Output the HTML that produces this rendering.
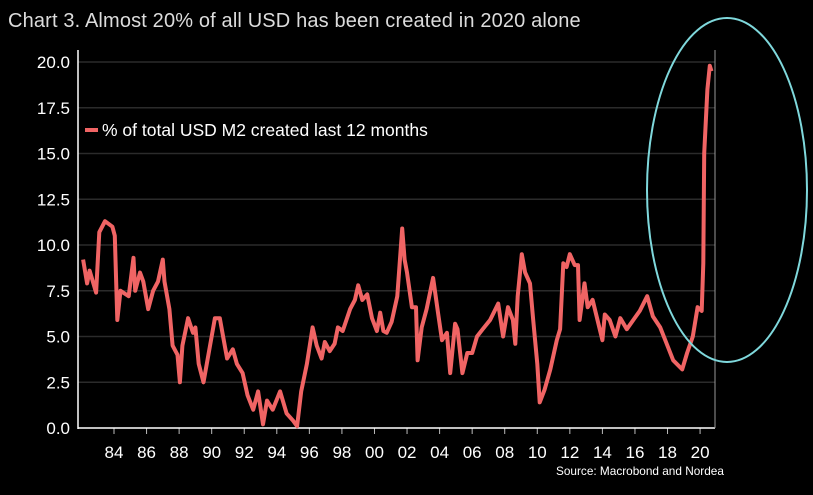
<!DOCTYPE html>
<html><head><meta charset="utf-8"><style>
html,body{margin:0;padding:0;background:#000;}
body{width:813px;height:490px;overflow:hidden;font-family:"Liberation Sans",sans-serif;}
</style></head><body>
<svg id="chart" width="813" height="490" xmlns="http://www.w3.org/2000/svg">
<rect width="813" height="490" fill="#000"/>
<text x="8" y="27" fill="#dcdcdc" font-size="20" letter-spacing="0.15" font-family="Liberation Sans, sans-serif">Chart 3. Almost 20% of all USD has been created in 2020 alone</text>
<g id="grid"></g>
<g id="axes"></g>
<g id="series"></g>
<g>
<line x1="85" y1="130" x2="98" y2="130" stroke="#f06464" stroke-width="4"/>
<text x="102" y="136" fill="#fff" font-size="17.5" font-family="Liberation Sans, sans-serif">% of total USD M2 created last 12 months</text>
</g>
<ellipse cx="727" cy="190" rx="80" ry="172" fill="none" stroke="#7fd8dc" stroke-width="2"/>
<text x="556" y="475" fill="#fff" font-size="11.8" font-family="Liberation Sans, sans-serif">Source: Macrobond and Nordea</text>
</svg>
<script>
const years=[1982.1,1982.35,1982.5,1982.9,1983.1,1983.45,1983.9,1984.05,1984.2,1984.4,1984.9,1985.2,1985.3,1985.6,1985.8,1986.1,1986.4,1986.7,1987.0,1987.1,1987.4,1987.6,1987.9,1988.05,1988.2,1988.55,1988.85,1989.0,1989.2,1989.5,1989.8,1990.2,1990.5,1990.7,1990.95,1991.3,1991.55,1991.9,1992.2,1992.55,1992.85,1993.15,1993.4,1993.75,1994.2,1994.6,1995.0,1995.25,1995.5,1995.85,1996.2,1996.45,1996.75,1996.95,1997.25,1997.55,1997.75,1998.05,1998.5,1998.8,1999.0,1999.25,1999.55,1999.85,2000.15,2000.35,2000.55,2000.75,2001.05,2001.4,2001.7,2001.85,2002.0,2002.3,2002.55,2002.65,2002.9,2003.2,2003.6,2003.9,2004.15,2004.45,2004.65,2004.95,2005.1,2005.4,2005.7,2006.0,2006.3,2006.65,2007.1,2007.6,2007.9,2008.2,2008.5,2008.65,2008.8,2009.05,2009.25,2009.55,2009.75,2010.0,2010.15,2010.45,2010.8,2011.2,2011.4,2011.6,2011.8,2012.0,2012.3,2012.5,2012.6,2012.9,2013.1,2013.4,2013.7,2014.0,2014.15,2014.45,2014.8,2015.1,2015.5,2015.9,2016.3,2016.75,2017.1,2017.55,2017.95,2018.35,2018.9,2019.2,2019.55,2019.85,2020.1,2020.2,2020.25,2020.45,2020.6,2020.7];
const values=[9.2,7.9,8.6,7.4,10.7,11.3,11.0,10.5,5.9,7.5,7.2,9.3,7.5,8.5,8.0,6.5,7.5,8.0,9.2,8.0,6.5,4.5,4.0,2.5,4.5,6.0,5.2,5.5,3.5,2.5,4.0,6.0,6.0,5.0,3.8,4.3,3.5,3.0,1.8,1.0,2.0,0.2,1.5,1.0,2.0,0.8,0.4,0.1,2.0,3.5,5.5,4.5,3.8,4.7,4.2,4.6,5.5,5.3,6.5,7.0,7.8,7.0,7.3,6.0,5.3,6.3,5.3,5.2,5.8,7.2,10.9,9.2,8.5,6.6,6.6,3.7,5.5,6.5,8.2,6.3,4.8,5.2,3.0,5.7,5.4,3.0,4.1,4.1,5.0,5.4,5.9,6.8,5.0,6.6,5.9,4.6,7.2,9.5,8.5,7.9,5.9,3.5,1.4,2.1,3.2,4.8,5.4,9.0,8.8,9.5,8.9,8.9,5.9,7.9,6.6,7.0,5.9,4.8,6.2,5.9,5.0,6.0,5.4,5.9,6.4,7.2,6.1,5.5,4.6,3.7,3.2,4.1,5.0,6.6,6.4,9.0,15.0,18.5,19.8,19.5];
const yTicks=[0,2.5,5,7.5,10,12.5,15,17.5,20];
const yTickLabels=["0.0","2.5","5.0","7.5","10.0","12.5","15.0","17.5","20.0"];
const xTicks=[1984,1986,1988,1990,1992,1994,1996,1998,2000,2002,2004,2006,2008,2010,2012,2014,2016,2018,2020];
const xTickLabels=["84","86","88","90","92","94","96","98","00","02","04","06","08","10","12","14","16","18","20"];

const NS="http://www.w3.org/2000/svg";
const L=78,R=715,B=428,T=62;
function xs(y){return 114+(y-1984)*16.28;}
function ys(v){return B-(v/20)*(B-T);}
function mk(tag,attrs,parent){const e=document.createElementNS(NS,tag);for(const k in attrs)e.setAttribute(k,attrs[k]);parent.appendChild(e);return e;}
const grid=document.getElementById('grid'),axes=document.getElementById('axes'),series=document.getElementById('series');
yTicks.forEach((v,i)=>{
  if(v>0){const g=mk('line',{x1:L,x2:R,y1:ys(v),y2:ys(v),stroke:'#2b2b2b','stroke-width':1.5},grid);
  
  }
  const t=mk('text',{x:L-8,y:ys(v)+6,fill:'#fff','font-size':17,'text-anchor':'end','font-family':'Liberation Sans, sans-serif'},axes);
  t.textContent=yTickLabels[i];
  
  
});
xTicks.forEach((y,i)=>{
  const x=xs(y);
  const tk=mk('line',{x1:x,x2:x,y1:B,y2:B+6,stroke:'#bbb','stroke-width':1},axes);
  
  
  const t=mk('text',{x:x,y:B+30,fill:'#fff','font-size':17,'text-anchor':'middle','font-family':'Liberation Sans, sans-serif'},axes);
  t.textContent=xTickLabels[i];
  
  
});
const ya=mk('line',{x1:L,x2:L,y1:50,y2:B+1,stroke:'#fff','stroke-width':1.5},axes);


const xa=mk('line',{x1:L,x2:R,y1:B,y2:B,stroke:'#fff','stroke-width':1.5},axes);


const ra=mk('line',{x1:R,x2:R,y1:50,y2:B,stroke:'#999','stroke-width':1},axes);


const d=years.map((y,i)=>(i?'L':'M')+xs(y).toFixed(1)+','+ys(values[i]).toFixed(1)).join(' ');
const p=mk('path',{d:d,fill:'none',stroke:'#f06464','stroke-width':4,'stroke-linejoin':'round'},series);


</script>
</body></html>
